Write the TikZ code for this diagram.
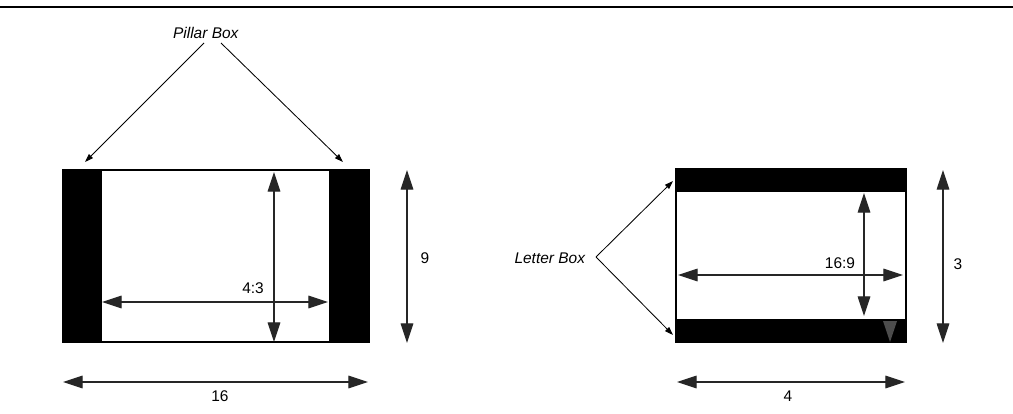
\documentclass[tikz,border=0pt]{standalone}
\usepackage{fontspec}
\setmainfont{Liberation Sans}
\usetikzlibrary{arrows.meta}
\tikzset{
  dimline/.style={{Triangle[length=14pt,width=9pt]}-{Triangle[length=14pt,width=9pt]}, line width=0.8pt, draw=black!85, fill=black!85},
  pointer/.style={-{Triangle[length=6pt,width=4pt]}, line width=0.6pt},
  lbl/.style={font=\fontsize{11}{13}\selectfont, inner sep=1pt},
}
\begin{document}
\begin{tikzpicture}[x=0.025cm, y=-0.025cm]
  \useasboundingbox (0,0) rectangle (1013,414);
  \draw[line width=2pt] (0,7) -- (1013,7);
  % pillar box frame
  \fill (62,169) rectangle (370,343);
  \fill[white] (102,170.5) rectangle (329,341);
  \node[lbl] (pillar) at (206,33) {\textit{Pillar Box}};
  \coordinate (pa) at (204,43);
  \coordinate (pb) at (221,43);
  \coordinate (pl) at (85,162);
  \coordinate (pr) at (343,162);
  \draw[pointer] (pa) -- (pl);
  \draw[pointer] (pb) -- (pr);
  \coordinate (v1) at (274,172);
  \coordinate (v2) at (274,342);
  \coordinate (h1) at (102,302);
  \coordinate (h2) at (328,302);
  \draw[dimline] (v1) -- (v2);
  \draw[dimline] (h1) -- (h2);
  \node[lbl] (ratioa) at (253,288) {4:3};
  \coordinate (nine1) at (407,170);
  \coordinate (nine2) at (407,343);
  \draw[dimline] (nine1) -- (nine2);
  \node[lbl] (nine) at (425,258) {9};
  \coordinate (sixt1) at (63,382);
  \coordinate (sixt2) at (368,382);
  \draw[dimline] (sixt1) -- (sixt2);
  \node[lbl] (sixteen) at (220,396) {16};
  % letter box frame
  \fill (675,168) rectangle (907,343);
  \fill[white] (677,192) rectangle (905,319);
  \fill[black!70] (883,321) -- (897,321) -- (890,342) -- cycle;
  \node[lbl] (letter) at (550,258) {\textit{Letter Box}};
  \coordinate (apex) at (596,257);
  \coordinate (lt) at (673,181);
  \coordinate (lb) at (673,335);
  \draw[pointer] (apex) -- (lt);
  \draw[pointer] (apex) -- (lb);
  \coordinate (w1) at (864,193);
  \coordinate (w2) at (864,316);
  \coordinate (g1) at (678,275);
  \coordinate (g2) at (903,275);
  \draw[dimline] (w1) -- (w2);
  \draw[dimline] (g1) -- (g2);
  \node[lbl] (ratiob) at (840,263) {16:9};
  \coordinate (three1) at (943,170);
  \coordinate (three2) at (943,343);
  \draw[dimline] (three1) -- (three2);
  \node[lbl] (three) at (958,264) {3};
  \coordinate (four1) at (677,382);
  \coordinate (four2) at (905,382);
  \draw[dimline] (four1) -- (four2);
  \node[lbl] (four) at (788,396) {4};
\end{tikzpicture}
\end{document}
